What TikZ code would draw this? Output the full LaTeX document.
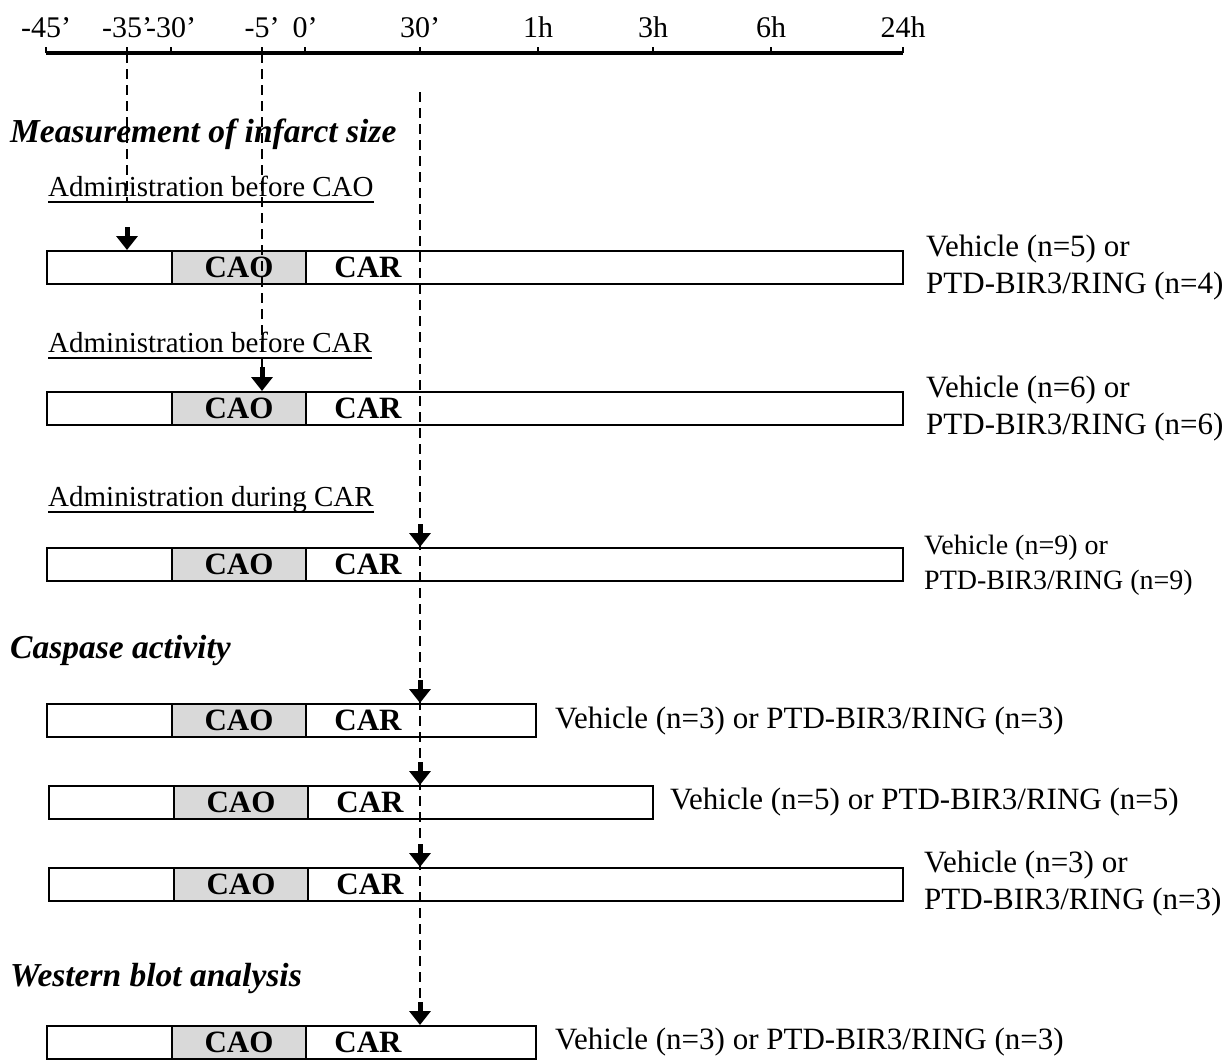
\documentclass[tikz,border=0pt]{standalone}
\usepackage{fontspec}
\setmainfont{Liberation Serif}
\usetikzlibrary{arrows.meta}
\newcommand\tlbar[4]{% name, left x, top y, width
  \node[barbox, minimum width=#4pt] (#1) at (#2,#3) {};
  \node[caobox] (#1o) at ({#2+125},#3) {CAO};
  \node[cartext] (#1r) at ({#2+322},{#3+17.5}) {CAR};
}
\begin{document}
\begin{tikzpicture}[x=1pt,y=-1pt,
  barbox/.style={draw, line width=2pt, fill=white, anchor=north west, inner sep=0pt, minimum height=33pt},
  caobox/.style={draw, line width=2pt, fill=gray!30, anchor=north west, inner sep=0pt, minimum height=33pt, minimum width=134pt, font=\fontsize{31}{34}\selectfont\bfseries, text depth=0pt},
  cartext/.style={font=\fontsize{31}{34}\selectfont\bfseries, inner sep=0pt, text depth=0pt},
  ticklbl/.style={font=\fontsize{30}{33}\selectfont, anchor=base, inner sep=0pt},
  sect/.style={font=\fontsize{33.5}{38}\selectfont\bfseries\itshape, anchor=base west, inner sep=0pt},
  hdr/.style={font=\fontsize{29}{33}\selectfont, anchor=base west, inner sep=0pt},
  grp/.style={font=\fontsize{31}{37}\selectfont, anchor=west, align=left, inner sep=0pt},
  grpsm/.style={font=\fontsize{28}{35}\selectfont, anchor=west, align=left, inner sep=0pt},
  axisline/.style={line width=3.5pt},
  tickmark/.style={line width=2.5pt},
  dashline/.style={line width=1.8pt, dash pattern=on 10pt off 6pt},
  ulline/.style={line width=1.2pt},
  arr/.style={line width=5pt, -{Triangle[length=14pt,width=21pt]}},
]
\useasboundingbox (0,0) rectangle (1229,1060);

% time axis
\coordinate (tA) at (46,53);
\coordinate (tB) at (127,53);
\coordinate (tC) at (171,53);
\coordinate (tD) at (262,53);
\coordinate (tE) at (305,53);
\coordinate (tF) at (420,53);
\coordinate (tG) at (538,53);
\coordinate (tH) at (653,53);
\coordinate (tI) at (771,53);
\coordinate (tJ) at (903,53);
\draw[axisline] (tA) -- (tJ);
\foreach \t/\l in {tA/-45’,tB/-35’,tC/-30’,tD/-5’,tE/0’,tF/30’,tG/1h,tH/3h,tI/6h,tJ/24h}{
  \draw[tickmark] (\t) -- ++(0,-6);
  \node[ticklbl] (l\t) at ([yshift=16pt]\t) {\l};
}

% section titles and headers
\node[sect] (s1) at (10,142) {Measurement of infarct size};
\node[hdr] (h1) at (48,196) {Administration before CAO};
\node[hdr] (h2) at (48,352) {Administration before CAR};
\node[hdr] (h3) at (48,506) {Administration during CAR};
\foreach \h in {h1,h2,h3}{
  \draw[ulline] ([yshift=-6pt]\h.base west) -- ([yshift=-6pt]\h.base east);
}
\node[sect] (s2) at (10,658) {Caspase activity};
\node[sect] (s3) at (10,986) {Western blot analysis};

% bars
\tlbar{b1}{46}{250}{856}
\tlbar{b2}{46}{391}{856}
\tlbar{b3}{46}{547}{856}
\tlbar{b4}{46}{703}{489}
\tlbar{b5}{48}{785}{604}
\tlbar{b6}{48}{867}{854}
\tlbar{b7}{46}{1025}{489}

% group labels
\node[grp] (g1) at (926,268) {Vehicle (n=5) or\\PTD-BIR3/RING (n=4)};
\node[grp] (g2) at (926,409) {Vehicle (n=6) or\\PTD-BIR3/RING (n=6)};
\node[grpsm] (g3) at (924,565) {Vehicle (n=9) or\\PTD-BIR3/RING (n=9)};
\node[grp] (g4) at (555,721) {Vehicle (n=3) or PTD-BIR3/RING (n=3)};
\node[grp] (g5) at (670,802) {Vehicle (n=5) or PTD-BIR3/RING (n=5)};
\node[grp] (g6) at (924,884) {Vehicle (n=3) or\\PTD-BIR3/RING (n=3)};
\node[grp] (g7) at (555,1042) {Vehicle (n=3) or PTD-BIR3/RING (n=3)};

% dashed guide lines
\coordinate (dB) at (127,203);
\coordinate (dD) at (262,367);
\coordinate (dF0) at (420,92);
\coordinate (dF) at (420,1003);
\draw[dashline] (tB) -- (dB);
\draw[dashline] (tD) -- (dD);
\draw[dashline] (dF0) -- (dF);

% administration arrows
\coordinate (aB) at (127,227);
\draw[arr] (aB) -- (aB |- b1.north);
\draw[arr] (dD) -- (dD |- b2.north);
\foreach \b in {b3,b4,b5,b6,b7}{
  \draw[arr] ([yshift=23pt]dF |- \b.north) -- (dF |- \b.north);
}
\end{tikzpicture}
\end{document}
